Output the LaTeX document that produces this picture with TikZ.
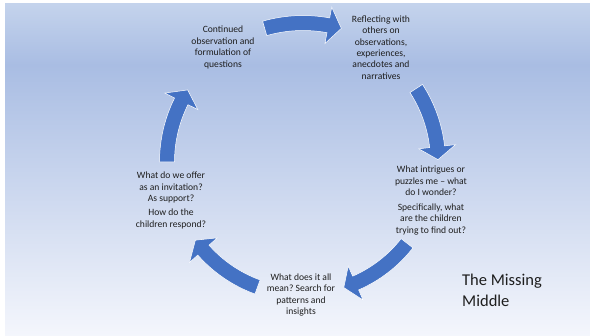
\documentclass[tikz,border=0pt]{standalone}
\usepackage{fontspec}
\setmainfont{Carlito}
\usepackage{tikz}
\usetikzlibrary{positioning}
\definecolor{cArrow}  {HTML}{4472C4}
\definecolor{cSkyTop} {HTML}{C4D3EC}
\definecolor{cSkyMid} {HTML}{A9BDE3}
\definecolor{cSkyLow} {HTML}{F4F6FC}
\definecolor{cInk}    {HTML}{1E1E1E}
\frenchspacing

\begin{document}
\begin{tikzpicture}[x=1pt, y=-1pt,
    stage/.style={align=center, text=cInk, inner sep=0pt,
                  font=\fontsize{9.6}{11.4}\selectfont},
    block/.style={fill=cArrow, draw=white, line width=0.5pt}]
  \useasboundingbox (0,0) rectangle (590,336);
  % backdrop, light at the top, darker band, fading to white
  \fill[white] (0,0) rectangle (590,336);
  \shade[top color=cSkyTop, bottom color=cSkyMid] (5,4) rectangle (590,65);
  \shade[top color=cSkyMid, bottom color=cSkyLow] (5,65) rectangle (590,336);

  % curved block arrows round the hub, clockwise
  \coordinate (hub) at (303,162);
  \begin{scope}[shift={(hub)}]
    \foreach \a/\b/\r in {-106/-74/139, -33/-1/135, 38/72/132, 110/144/133, 180/212/136}{
      \path[block] (\a:\r+7.5) arc[start angle=\a, end angle=\b-5.5, radius=\r+7.5]
        -- (\b-5.5:\r+18.5) -- (\b:\r) -- (\b-5.5:\r-18.5) -- (\b-5.5:\r-7.5)
        arc[start angle=\b-5.5, end angle=\a, radius=\r-7.5] -- cycle;
    }
  \end{scope}

  % the five stages
  \node[stage] (observe) at (223,47.5) {Continued\\observation and\\formulation of\\questions};
  \node[stage] (reflect) at (381,47.5) {Reflecting with\\others on\\observations,\\experiences,\\anecdotes and\\narratives};
  \node[stage] (wonder) at (431,200.5) {What intrigues or\\puzzles me -- what\\do I wonder?\\[3.5pt]Specifically, what\\are the children\\trying to find out?};
  \node[stage] (meaning) at (301,295) {What does it all\\mean? Search for\\patterns and\\insights};
  \node[stage] (offer) at (171,200.5) {What do we offer\\as an invitation?\\As support?\\[3pt]How do the\\children respond?};

  \node[anchor=west, align=left, text=cInk, inner sep=0pt,
        font=\fontsize{16.5}{20.7}\selectfont] (title) at (462,290) {The Missing\\Middle};
\end{tikzpicture}
\end{document}
